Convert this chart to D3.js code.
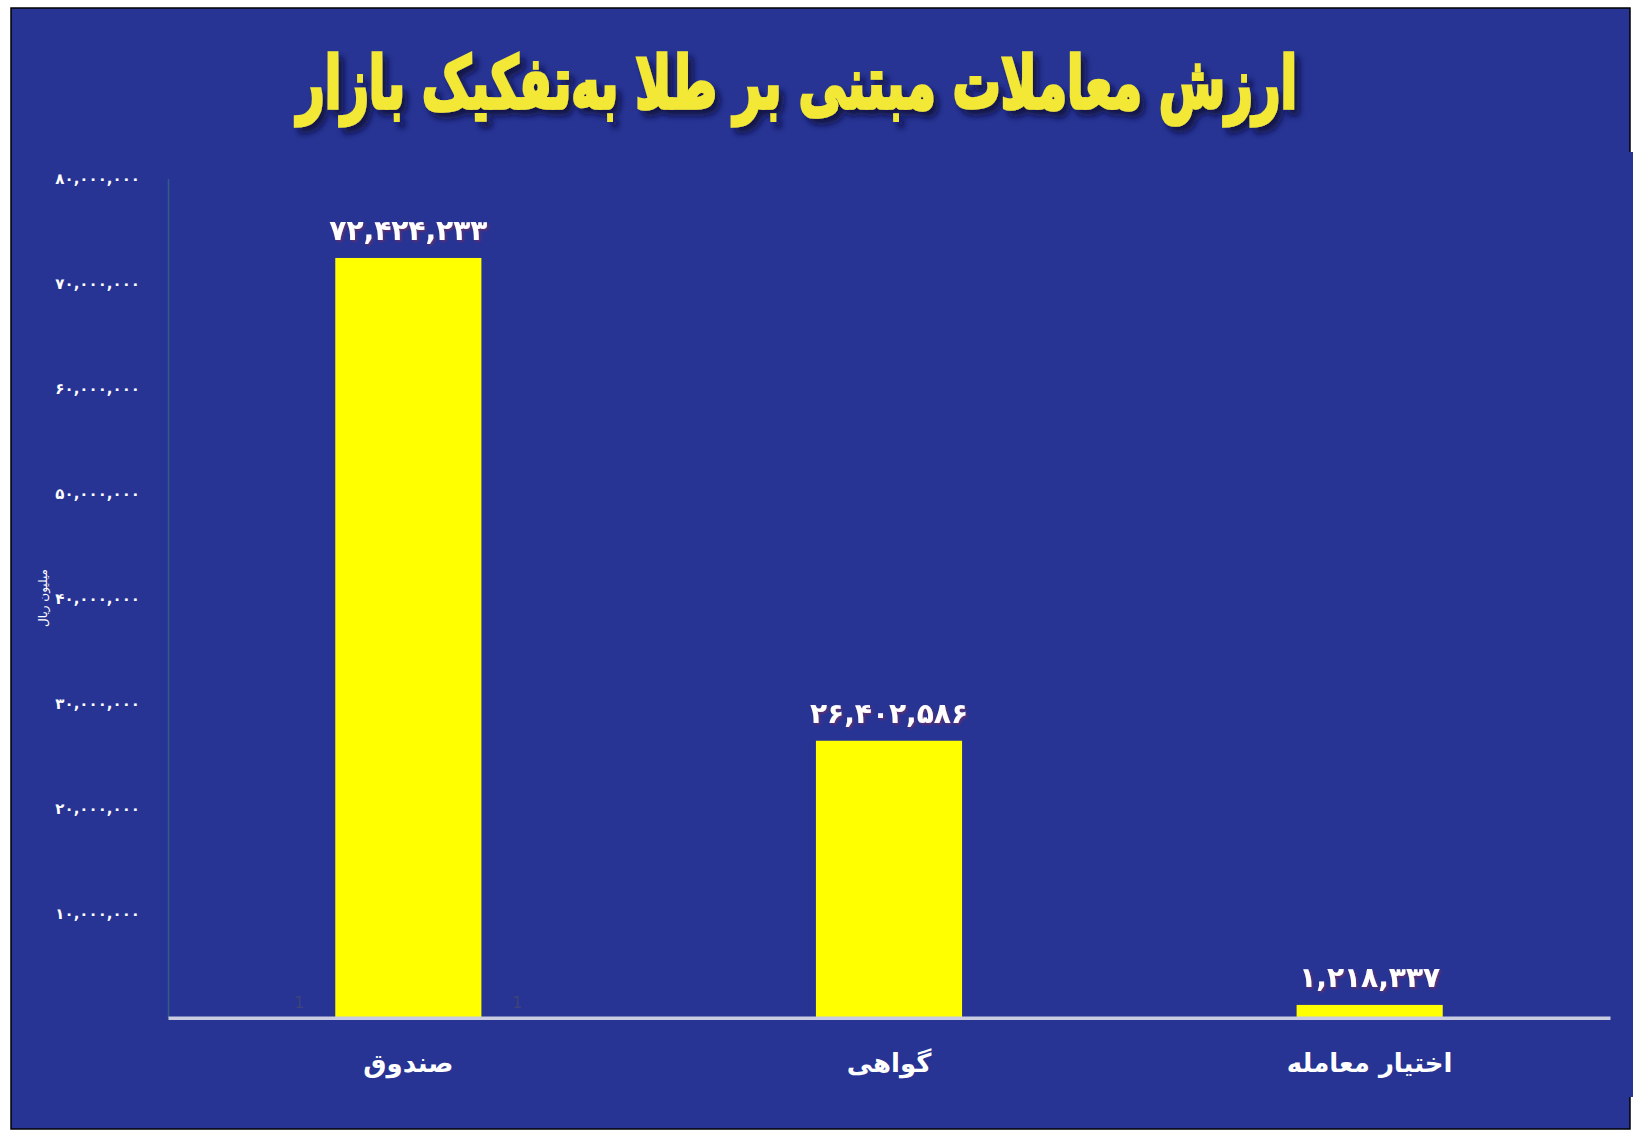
<!DOCTYPE html>
<html>
<head>
<meta charset="utf-8">
<script src="https://cdn.jsdelivr.net/npm/d3@7"></script>
<style>
  body { margin: 0; background: #ffffff; }
  svg text { font-family: 'DejaVu Sans', sans-serif; }
</style>
</head>
<body>
<div id="chart"></div>
<script>
  // values (million rials)
  var categories = ["صندوق", "گواهی", "اختیار معامله"];
  var values = [72424233, 26402586, 1218337];
  var tickValues = [10000000, 20000000, 30000000, 40000000, 50000000, 60000000, 70000000, 80000000];
  var title = "ارزش معاملات مبتنی بر طلا به\u200cتفکیک بازار";
  var yTitle = "میلیون ریال";

  var W = 1642, H = 1137;
  var blue = "#273494";

  var svg = d3.select("#chart").append("svg")
    .attr("width", W).attr("height", H);

  var defs = svg.append("defs");
  var f = defs.append("filter").attr("id", "titleShadow")
    .attr("x", "-5%").attr("y", "-20%").attr("width", "110%").attr("height", "150%");
  f.append("feDropShadow").attr("dx", 5).attr("dy", 6).attr("stdDeviation", 3)
    .attr("flood-color", "#0a0f3a").attr("flood-opacity", 0.85);
  var f2 = defs.append("filter").attr("id", "lblShadow");
  f2.append("feDropShadow").attr("dx", 1.5).attr("dy", 1.5).attr("stdDeviation", 1)
    .attr("flood-color", "#7a2c5c").attr("flood-opacity", 0.8);

  // background panel
  svg.append("rect").attr("x", 11).attr("y", 8).attr("width", 1619).attr("height", 1121)
    .attr("fill", blue).attr("stroke", "#000").attr("stroke-width", 1.5);
  svg.append("rect").attr("x", 1629).attr("y", 152).attr("width", 4).attr("height", 945)
    .attr("fill", blue);

  // title
  svg.append("text")
    .attr("x", 797).attr("y", 108)
    .attr("text-anchor", "middle")
    .attr("direction", "rtl")
    .attr("textLength", 1000)
    .attr("lengthAdjust", "spacingAndGlyphs")
    .attr("font-size", 72)
    .attr("font-weight", "bold")
    .attr("fill", "#f2e836")
    .attr("stroke", "#f2e836").attr("stroke-width", 3.5)
    .attr("filter", "url(#titleShadow)")
    .text(title);

  var plotLeft = 168, plotRight = 1610, plotTop = 178.5, plotBottom = 1017.7;

  var x = d3.scaleBand().domain(categories).range([plotLeft, plotRight])
    .paddingInner(0.696).paddingOuter(0.348);
  var y = d3.scaleLinear().domain([0, 80000000]).range([plotBottom, plotTop]);

  var faDigits = "۰۱۲۳۴۵۶۷۸۹";
  var fmt = d3.format(",");
  function fa(n) { return fmt(n).replace(/\d/g, function (d) { return faDigits[d]; }); }

  // y axis
  var yAxis = d3.axisLeft(y).tickValues(tickValues).tickSize(0).tickPadding(28)
    .tickFormat(fa);
  var gy = svg.append("g").attr("transform", "translate(" + plotLeft + ",0)").call(yAxis);
  gy.select(".domain").attr("stroke", "#2d5f86").attr("stroke-width", 1.5);
  gy.selectAll("text")
    .attr("fill", "#ffffff")
    .attr("font-size", 15)
    .attr("font-weight", "bold")
    .attr("dy", "0.35em");

  // y title
  svg.append("text")
    .attr("transform", "translate(47,598) rotate(-90)")
    .attr("text-anchor", "middle")
    .attr("direction", "rtl")
    .attr("fill", "#ffffff")
    .attr("font-size", 12)
    .text(yTitle);

  // bars
  svg.selectAll(".bar").data(values).enter().append("rect")
    .attr("class", "bar")
    .attr("x", function (d, i) { return x(categories[i]); })
    .attr("width", x.bandwidth())
    .attr("y", function (d) { return y(d); })
    .attr("height", function (d) { return plotBottom - y(d); })
    .attr("fill", "#ffff00");

  // stray grey "1" marks around the first bar
  var firstCat = categories[0];
  [-1, 1].forEach(function (s) {
    svg.append("text")
      .attr("x", x(firstCat) + x.bandwidth() / 2 + s * (x.bandwidth() / 2 + 36))
      .attr("y", plotBottom - 10)
      .attr("text-anchor", "middle")
      .attr("font-family", "'Liberation Serif', serif")
      .attr("font-size", 15)
      .attr("fill", "#3e4478")
      .text("1");
  });

  // baseline
  var gx = svg.append("g").attr("transform", "translate(0," + plotBottom + ")")
    .call(d3.axisBottom(x).tickSize(0).tickPadding(45));
  gx.select(".domain").attr("stroke", "#c9cbe0").attr("stroke-width", 3.5);
  gx.selectAll("text")
    .attr("fill", "#ffffff")
    .attr("font-size", 26)
    .attr("font-weight", "bold")
    .attr("direction", "rtl")
    .attr("dy", "0.35em");

  // value labels
  svg.selectAll(".val").data(values).enter().append("text")
    .attr("class", "val")
    .attr("x", function (d, i) { return x(categories[i]) + x.bandwidth() / 2; })
    .attr("y", function (d) { return y(d) - 18; })
    .attr("text-anchor", "middle")
    .attr("fill", "#ffffff")
    .attr("font-size", 28)
    .attr("font-weight", "bold")
    .attr("filter", "url(#lblShadow)")
    .text(function (d) { return fa(d); });
</script>
</body>
</html>
